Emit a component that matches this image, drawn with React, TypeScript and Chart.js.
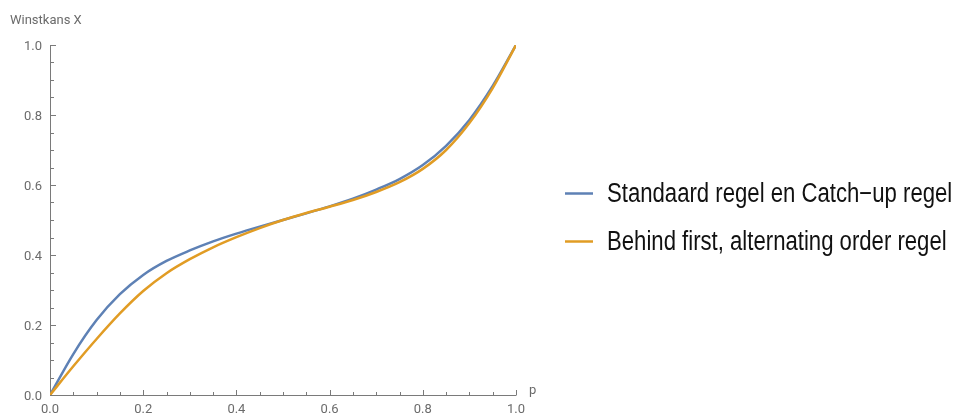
import React, { useEffect, useRef } from "react";
import { Chart, registerables } from "chart.js";

Chart.register(...registerables);

// Probability p of winning a single point
const pValues = [
  0, 0.05, 0.1, 0.15, 0.2, 0.25, 0.3, 0.35, 0.4, 0.45, 0.5,
  0.55, 0.6, 0.65, 0.7, 0.75, 0.8, 0.85, 0.9, 0.95, 1,
];

// Winning chance of player X under each rule set
const standaardValues = [
  0, 0.117, 0.214, 0.288, 0.343, 0.383, 0.413, 0.439, 0.461, 0.481, 0.5,
  0.519, 0.539, 0.561, 0.587, 0.617, 0.657, 0.712, 0.786, 0.883, 1,
];
const behindFirstValues = [
  0, 0.082, 0.16, 0.233, 0.297, 0.348, 0.388, 0.422, 0.451, 0.477, 0.5,
  0.52, 0.538, 0.557, 0.58, 0.608, 0.646, 0.7, 0.777, 0.877, 1,
];

const seriesLabels = [
  "Standaard regel en Catch\u2212up regel",
  "Behind first, alternating order regel",
];
const seriesColors = ["#5E81B5", "#E19C24"];

const majorTickValues = [0, 0.2, 0.4, 0.6, 0.8, 1.0];
const minorTicksPerMajor = 4;
const yAxisTitle = "Winstkans X";
const xAxisTitle = "p";

const axisColor = "#7a7a7a";
const labelColor = "#6b6b6b";
const tickFont = "13px Roboto, 'Liberation Sans', sans-serif";

// Draws axes crossing at the origin, with inward major and minor ticks.
const axesPlugin = {
  id: "originAxes",
  beforeDatasetsDraw(chart: any) {
    const { ctx } = chart;
    const xs = chart.scales.x;
    const ys = chart.scales.y;
    const x0 = Math.round(xs.getPixelForValue(0));
    const x1 = Math.round(xs.getPixelForValue(1));
    const y0 = Math.round(ys.getPixelForValue(0));
    const y1 = Math.round(ys.getPixelForValue(1));
    ctx.save();
    ctx.strokeStyle = axisColor;
    ctx.lineWidth = 1;
    ctx.beginPath();
    ctx.moveTo(x0, y0 + 0.5);
    ctx.lineTo(x1 + 0.5, y0 + 0.5);
    ctx.moveTo(x0 + 0.5, y0 + 0.5);
    ctx.lineTo(x0 + 0.5, y1);
    const step = (majorTickValues[1] - majorTickValues[0]) / minorTicksPerMajor;
    const n = Math.round(1 / step);
    for (let i = 0; i <= n; i++) {
      const v = i * step;
      const len = i % minorTicksPerMajor === 0 ? 5 : 3;
      const px = Math.round(xs.getPixelForValue(v)) + 0.5;
      const py = Math.round(ys.getPixelForValue(v)) + 0.5;
      ctx.moveTo(px, y0);
      ctx.lineTo(px, y0 - len);
      ctx.moveTo(x0, py);
      ctx.lineTo(x0 + len + 1, py);
    }
    ctx.stroke();

    ctx.fillStyle = labelColor;
    ctx.font = tickFont;
    majorTickValues.forEach((v) => {
      const txt = v.toFixed(1);
      ctx.textAlign = "center";
      ctx.textBaseline = "alphabetic";
      ctx.fillText(txt, xs.getPixelForValue(v), y0 + 18);
      ctx.textAlign = "right";
      ctx.fillText(txt, x0 - 8, ys.getPixelForValue(v) + 4.5);
    });
    ctx.textAlign = "left";
    ctx.fillText(yAxisTitle, 10, 24);
    ctx.fillText(xAxisTitle, x1 + 13, y0 - 1);
    ctx.restore();
  },
};

// Legend drawn at the right of the plot area.
const legendPlugin = {
  id: "sideLegend",
  afterDraw(chart: any) {
    const { ctx } = chart;
    ctx.save();
    const probe = "Standaard";
    ctx.font = "27px monospace";
    const mono = ctx.measureText(probe).width;
    ctx.font = "27px 'Liberation Sans Narrow', monospace";
    const narrowAvailable = Math.abs(ctx.measureText(probe).width - mono) > 0.5;
    const rows = [195, 243];
    chart.data.datasets.forEach((ds: any, i: number) => {
      const y = rows[i];
      ctx.strokeStyle = ds.borderColor;
      ctx.lineWidth = 2.5;
      ctx.beginPath();
      ctx.moveTo(565, y - 1.5);
      ctx.lineTo(593, y - 1.5);
      ctx.stroke();
      ctx.fillStyle = "#111";
      ctx.textBaseline = "middle";
      ctx.textAlign = "left";
      if (narrowAvailable) {
        ctx.font = "27px 'Liberation Sans Narrow'";
        ctx.fillText(ds.label, 607, y);
      } else {
        ctx.save();
        ctx.translate(607, y);
        ctx.scale(0.82, 1);
        ctx.font = "27px 'Liberation Sans', Arial, sans-serif";
        ctx.fillText(ds.label, 0, 0);
        ctx.restore();
      }
    });
    ctx.restore();
  },
};

export default function App() {
  const canvasRef = useRef<HTMLCanvasElement | null>(null);

  useEffect(() => {
    const canvas = canvasRef.current;
    if (!canvas) return;
    const chart = new Chart(canvas, {
      type: "line",
      data: {
        datasets: [
          {
            label: seriesLabels[0],
            data: pValues.map((p, i) => ({ x: p, y: standaardValues[i] })),
            borderColor: seriesColors[0],
            order: 1,
          },
          {
            label: seriesLabels[1],
            data: pValues.map((p, i) => ({ x: p, y: behindFirstValues[i] })),
            borderColor: seriesColors[1],
            order: 0,
          },
        ],
      },
      options: {
        responsive: false,
        animation: false,
        devicePixelRatio: 1,
        layout: { padding: { left: 50, top: 45, right: 437, bottom: 21 } },
        elements: {
          point: { radius: 0, hoverRadius: 0 },
          line: {
            borderWidth: 2.5,
            cubicInterpolationMode: "monotone",
            borderCapStyle: "round",
            borderJoinStyle: "round",
            fill: false,
          },
        },
        scales: {
          x: { type: "linear", min: 0, max: 1, display: false },
          y: { type: "linear", min: 0, max: 1, display: false },
        },
        plugins: {
          legend: { display: false },
          tooltip: { enabled: false },
        },
      },
      plugins: [axesPlugin, legendPlugin],
    } as any);
    return () => chart.destroy();
  }, []);

  return (
    <div style={{ position: "fixed", left: 0, top: 0, width: 953, height: 416, background: "#fff" }}>
      <canvas ref={canvasRef} width={953} height={416} style={{ width: 953, height: 416, display: "block" }} />
    </div>
  );
}
